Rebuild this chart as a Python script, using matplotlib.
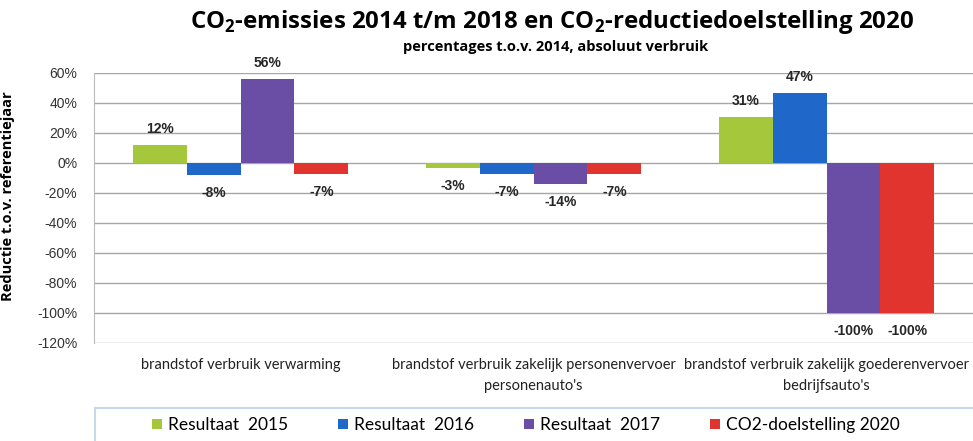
import matplotlib
matplotlib.use("Agg")
import matplotlib.pyplot as plt
from matplotlib.patches import Rectangle
import numpy as np

categories = ["brandstof verbruik verwarming",
              "brandstof verbruik zakelijk personenvervoer\npersonenauto's",
              "brandstof verbruik zakelijk goederenvervoer\nbedrijfsauto's"]
series_names = ["Resultaat  2015", "Resultaat  2016", "Resultaat  2017", "CO2-doelstelling 2020"]
res_2015 = [12, -3, 31]
res_2016 = [-8, -7, 47]
res_2017 = [56, -14, -100]
doel_2020 = [-7, -7, -100]
yticks = [60, 40, 20, 0, -20, -40, -60, -80, -100, -120]
colors = ["#a5c73c", "#1f67c9", "#6a4ea6", "#e2342e"]

plt.rcParams['mathtext.fontset'] = 'custom'
plt.rcParams['mathtext.bf'] = 'Open Sans:bold'
plt.rcParams['mathtext.rm'] = 'Open Sans'

fig = plt.figure(figsize=(9.73, 4.41), dpi=100)
ax = fig.add_axes([94/973, 1 - 343/441, (973 - 94)/973, (343 - 73)/441])

x = np.arange(len(categories))
w = 0.184
all_series = [res_2015, res_2016, res_2017, doel_2020]
handles = []
for i, (vals, c) in enumerate(zip(all_series, colors)):
    pos = x + (i - 1.5) * w
    b = ax.bar(pos, vals, width=w, color=c, zorder=3, label=series_names[i])
    handles.append(b)
    for px, v in zip(pos, vals):
        off = 11.5 if v >= 0 else -13
        ax.annotate(f"{v}%", (px, v), xytext=(0, off), textcoords="offset points",
                    ha="center", va="center", fontsize=10, fontweight="bold",
                    family="Liberation Sans", color="#262626")

ax.set_xlim(-0.5, len(categories) - 0.5)
ax.set_ylim(-120, 60)
ax.set_yticks(yticks)
ax.set_yticklabels([f"{t}%" for t in yticks], family="Liberation Sans", fontsize=10, color="#333333")
ax.set_xticks(x)
ax.set_xticklabels(categories, family="Lato", fontsize=10.5, color="#222222", linespacing=1.6)
ax.tick_params(axis="both", length=0)
ax.tick_params(axis="x", pad=11)
ax.tick_params(axis="y", pad=12)
ax.grid(axis="y", color="#a6a6a6", linewidth=1.0, zorder=0)
for s in ["top", "right", "bottom"]:
    ax.spines[s].set_visible(False)
ax.spines["left"].set_color("#bbbbbb")

ax.set_ylabel("Reductie t.o.v. referentiejaar", fontsize=10.5, fontweight="bold",
              family="Open Sans")
ax.yaxis.set_label_coords(-(94 - 15) / 879, 0.545)

fig.text(552/973, 1 - 22/441,
         r"CO$_\mathbf{2}$-emissies 2014 t/m 2018 en CO$_\mathbf{2}$-reductiedoelstelling 2020",
         ha="center", va="center", fontsize=17.3, fontweight="bold", family="Open Sans")
fig.text(556/973, 1 - 47/441, "percentages t.o.v. 2014, absoluut verbruik",
         ha="center", va="center", fontsize=10.5, fontweight="bold", family="Open Sans")

fig.patches.append(Rectangle((95/973, -0.05), (973 - 95)/973 + 0.01, 0.05 + 1 - 408/441,
                             transform=fig.transFigure, facecolor="white",
                             edgecolor="#c5d9ec", linewidth=1.5, zorder=0))
leg = fig.legend(handles=handles, labels=series_names, loc="center left",
                 bbox_to_anchor=(152/973, 1 - 425/441),
                 ncol=4, frameon=False, handlelength=0.55, handleheight=0.55,
                 handletextpad=0.35, columnspacing=2.9, borderaxespad=0, borderpad=0,
                 prop={"family": "Lato", "size": 12.5})

fig.savefig("out.png", dpi=100)
